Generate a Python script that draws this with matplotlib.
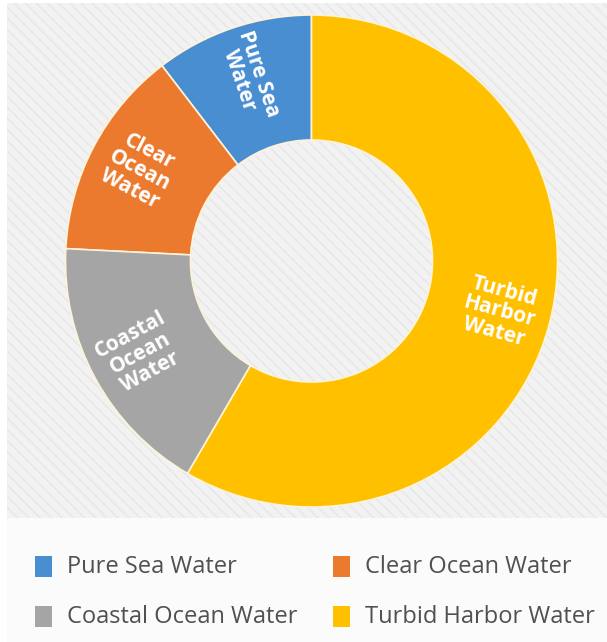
import numpy as np
import matplotlib
matplotlib.use("Agg")
import matplotlib.pyplot as plt
from matplotlib.patches import Rectangle

# Share of each water type
categories = ["Pure Sea Water", "Clear Ocean Water", "Coastal Ocean Water", "Turbid Harbor Water"]
ring_labels = ["Pure Sea\nWater", "Clear\nOcean\nWater", "Coastal\nOcean\nWater", "Turbid\nHarbor\nWater"]
values = [10.4, 13.8, 17.4, 58.4]
colors = ["#4A8ED2", "#EC7A2E", "#A5A5A5", "#FFC000"]

plt.rcParams["hatch.linewidth"] = 1.2

W, H = 607, 642
fig = plt.figure(figsize=(W / 100, H / 100), dpi=100)
fig.patch.set_facecolor("white")

# striped backdrop behind the ring
fig.patches.append(Rectangle((7 / W, 1 - 518 / H), 600 / W, 515 / H,
                             transform=fig.transFigure, facecolor="#f2f2f2",
                             edgecolor="#e8e8e8", hatch="\\\\\\", linewidth=0,
                             zorder=-5))
# pale legend panel
fig.patches.append(Rectangle((7 / W, 0), 600 / W, 124 / H,
                             transform=fig.transFigure, facecolor="#fbfbfb",
                             edgecolor="none", zorder=-5))

cx, cy, R = 311.5, 261, 246
ax = fig.add_axes([(cx - R) / W, (H - cy - R) / H, 2 * R / W, 2 * R / H])
ax.set_zorder(2)
ax.set_facecolor("none")
wedges, _ = ax.pie(values, colors=colors, startangle=90, counterclock=True,
                   radius=1.0,
                   wedgeprops=dict(width=0.508, edgecolor="#fdf3d8", linewidth=1.2))
ax.set_xlim(-1, 1)
ax.set_ylim(-1, 1)
ax.set_aspect("auto")
ax.axis("off")

for w, lab in zip(wedges, ring_labels):
    mid = (w.theta1 + w.theta2) / 2.0
    r = 0.79
    x, y = r * np.cos(np.radians(mid)), r * np.sin(np.radians(mid))
    rot = mid - 180
    if rot > 90 or rot < -90:
        rot = mid
    if rot > 180:
        rot -= 360
    ax.text(x, y, lab, ha="center", va="center", rotation=rot,
            rotation_mode="anchor", color="white", fontsize=15,
            fontweight="bold", family="Open Sans", linespacing=1.0)

# legend rows
legend_pos = [(35, 567), (333, 567), (35, 617), (333, 617)]
for (lx, ly), name, c in zip(legend_pos, categories, colors):
    fig.patches.append(Rectangle((lx / W, 1 - (ly + 10) / H), 17 / W, 21 / H,
                                 transform=fig.transFigure, facecolor=c,
                                 edgecolor="none", zorder=2))
    fig.text((lx + 32) / W, 1 - ly / H, name, ha="left", va="center",
             fontsize=17, color="#505050", family="Open Sans")

fig.savefig("out.png", dpi=100, facecolor=fig.get_facecolor())
